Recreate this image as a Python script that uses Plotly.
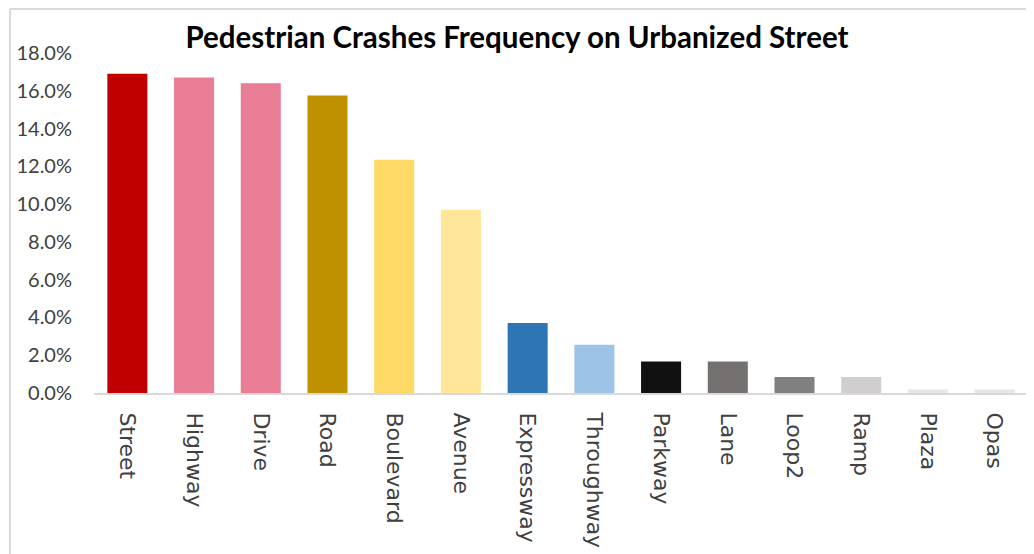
import plotly.graph_objects as go

categories = ["Street", "Highway", "Drive", "Road", "Boulevard", "Avenue", "Expressway",
              "Throughway", "Parkway", "Lane", "Loop2", "Ramp", "Plaza", "Opas"]
share_pct = [16.9, 16.7, 16.4, 15.75, 12.35, 9.7, 3.7, 2.55, 1.67, 1.67, 0.85, 0.85, 0.19, 0.19]
bar_colors = ["#C00000", "#E87D95", "#E87D95", "#BF9000", "#FFD966", "#FFE699", "#2E75B6",
              "#9DC3E6", "#111111", "#767171", "#808080", "#D0CECE", "#E7E6E6", "#E7E6E6"]
y_ticks = list(range(0, 19, 2))
y_ticktext = [f"{v:.1f}%" for v in y_ticks]

# the page body has an 8px default margin, so the figure is drawn 8px in
OFF = 8
W, H = 1034 - OFF, 554 - OFF
ML, MR, MT, MB = 86, 6, 45, 161
pw, ph = W - ML - MR, H - MT - MB


def px_x(x):
    return (x - ML) / pw


def px_y(y):
    return (H - MB - y) / ph


fig = go.Figure(
    go.Bar(
        x=categories,
        y=share_pct,
        marker=dict(color=bar_colors, line=dict(width=0)),
        hovertemplate="%{x}: %{y:.1f}%<extra></extra>",
    )
)

fig.update_layout(
    width=W,
    height=H,
    margin=dict(l=ML, r=MR, t=MT, b=MB),
    paper_bgcolor="white",
    plot_bgcolor="white",
    bargap=0.4,
    showlegend=False,
    title=dict(
        text="<b>Pedestrian Crashes Frequency on Urbanized Street</b>",
        x=509 / W,
        xanchor="center",
        y=1 - 30 / H,
        yanchor="middle",
        font=dict(family="Lato", size=29.5, color="#000000"),
    ),
)

fig.update_yaxes(
    range=[0, 18],
    tickvals=y_ticks,
    ticktext=y_ticktext,
    showgrid=False,
    zeroline=False,
    showline=False,
    ticks="",
    ticklabelstandoff=21,
    tickfont=dict(family="Lato", size=20, color="#404040"),
)
fig.update_xaxes(
    tickangle=90,
    showgrid=False,
    showline=True,
    linecolor="#D9D9D9",
    linewidth=2,
    ticks="",
    ticklabelstandoff=13,
    tickfont=dict(family="DejaVu Sans", size=22, color="#404040"),
)

# chart border (top and left edges, as in the source screenshot)
border = dict(color="#D9D9D9", width=2)
fig.add_shape(type="line", xref="paper", yref="paper",
              x0=px_x(2), x1=px_x(W), y0=px_y(1), y1=px_y(1), line=border)
fig.add_shape(type="line", xref="paper", yref="paper",
              x0=px_x(2), x1=px_x(2), y0=px_y(1), y1=px_y(H), line=border)

fig.write_html("out.html")
